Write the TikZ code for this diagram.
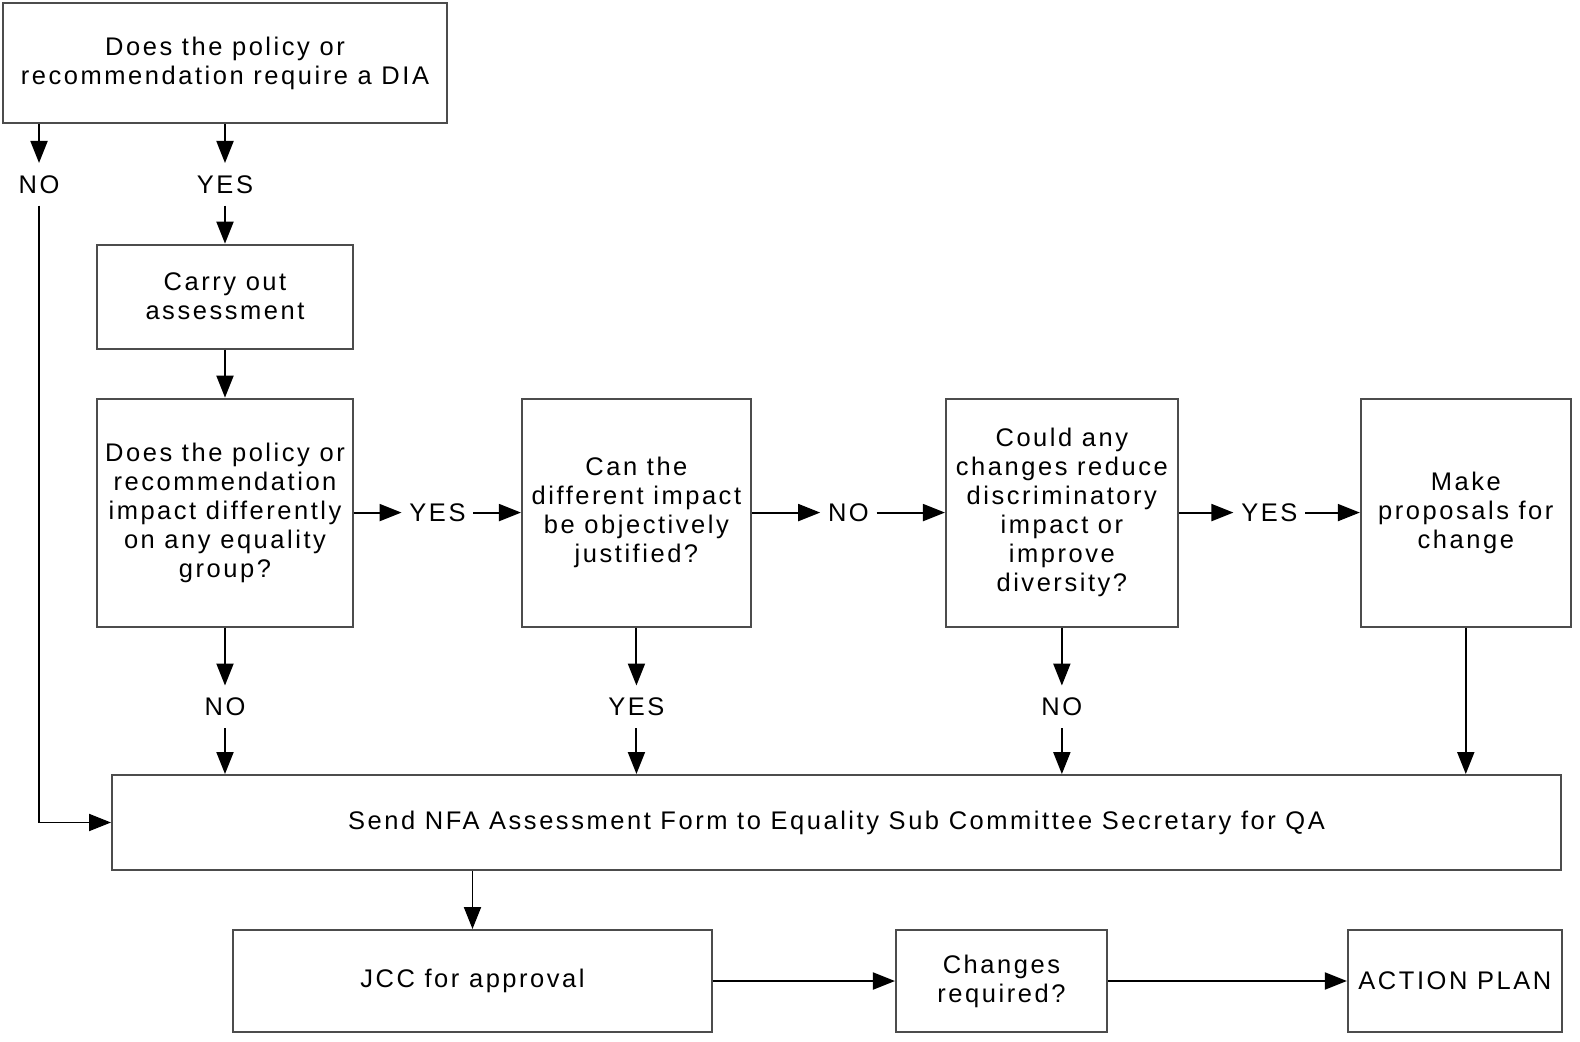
\documentclass[tikz,border=0pt]{standalone}
\usepackage{fontspec}
\setmainfont{Liberation Sans}[LetterSpace=10]
\usetikzlibrary{arrows.meta,positioning,calc}

\tikzset{
  box/.style={draw=black!70, line width=1.1pt, align=center, inner sep=0pt,
    font=\fontsize{14.5}{16.5}\selectfont},
  qbox/.style={box, minimum height=4.56cm},
  lbl/.style={inner xsep=0.15cm, inner ysep=0pt, minimum height=0.84cm,
    font=\fontsize{14.5}{16.5}\selectfont},
  arr/.style={-{Triangle[length=0.44cm,width=0.34cm]}, line width=1.1pt},
}

\begin{document}
\begin{tikzpicture}
\useasboundingbox (0,0) rectangle (31.6,-20.84);

\node[box, minimum width=8.88cm, minimum height=2.4cm] (dia) at (4.5,-1.26) {Does the policy or\\recommendation require a DIA};
\node[lbl, below=0.78cm of dia.south west, xshift=0.74cm] (no0) {NO};
\node[lbl, below=0.78cm of dia] (yes0) {YES};
\node[box, minimum width=5.12cm, minimum height=2.08cm, below=0.76cm of yes0] (carry) {Carry out\\assessment};

% question row
\node[qbox, minimum width=5.12cm, below=0.96cm of carry] (q1) {Does the policy or\\recommendation\\impact differently\\on any equality\\group?};
\node[qbox, minimum width=4.58cm, right=3.34cm of q1] (q2) {Can the\\different impact\\be objectively\\justified?};
\node[qbox, minimum width=4.64cm, right=3.86cm of q2] (q3) {Could any\\changes reduce\\discriminatory\\impact or\\improve\\diversity?};
\node[qbox, minimum width=4.2cm, right=3.62cm of q3] (q4) {Make\\proposals for\\change};

\node[lbl] (yes1) at ($(q1.east)!0.5!(q2.west)$) {YES};
\node[lbl] (no1) at ($(q2.east)!0.5!(q3.west)$) {NO};
\node[lbl] (yes2) at ($(q3.east)!0.5!(q4.west)$) {YES};

\node[lbl, below=1.16cm of q1] (no2) {NO};
\node[lbl, below=1.16cm of q2] (yes3) {YES};
\node[lbl, below=1.16cm of q3] (no3) {NO};

% bottom part
\node[box, minimum width=28.98cm, minimum height=1.9cm] (send) at (16.73,-16.45) {Send NFA Assessment Form to Equality Sub Committee Secretary for QA};
\node[box, minimum width=9.58cm, minimum height=2.04cm] (jcc) at (9.45,-19.62) {JCC for approval};
\node[box, minimum width=4.22cm, minimum height=2.04cm, right=3.64cm of jcc] (chg) {Changes\\required?};
\node[box, minimum width=4.28cm, minimum height=2.04cm, right=4.78cm of chg] (plan) {ACTION PLAN};

\draw[arr] (dia.south -| no0) -- (no0);
\draw[arr] (dia.south -| yes0) -- (yes0);
\draw[arr] (no0) |- (send.west);
\draw[arr] (yes0) -- (yes0 |- carry.north);
\draw[arr] (carry.south) -- (carry.south |- q1.north);

\draw[arr] (q1) -- (yes1);
\draw[arr] (yes1) -- (q2);
\draw[arr] (q2) -- (no1);
\draw[arr] (no1) -- (q3);
\draw[arr] (q3) -- (yes2);
\draw[arr] (yes2) -- (q4);

\draw[arr] (q1) -- (no2);
\draw[arr] (no2) -- (no2 |- send.north);
\draw[arr] (q2) -- (yes3);
\draw[arr] (yes3) -- (yes3 |- send.north);
\draw[arr] (q3) -- (no3);
\draw[arr] (no3) -- (no3 |- send.north);
\draw[arr] (q4) -- (q4 |- send.north);

\draw[arr] (send.south -| jcc) -- (jcc);
\draw[arr] (jcc) -- (chg);
\draw[arr] (chg) -- (plan);
\end{tikzpicture}
\end{document}
